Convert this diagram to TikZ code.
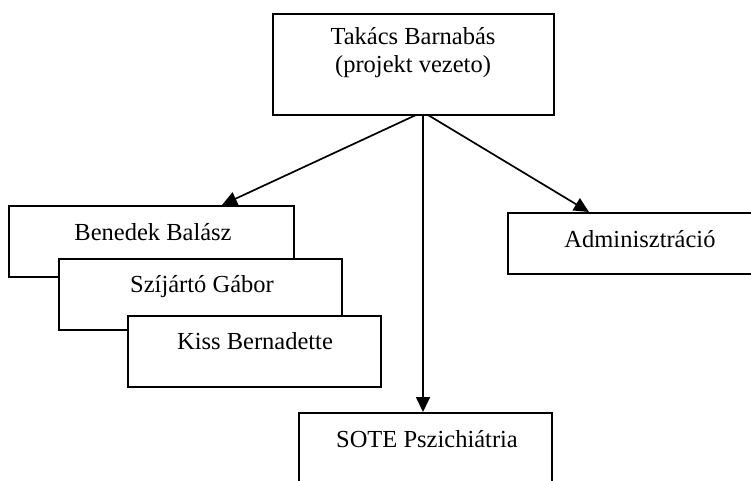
\documentclass[tikz,border=0pt]{standalone}
\usepackage{fontspec}
\setmainfont{Liberation Serif}
\usetikzlibrary{arrows.meta}
\begin{document}
\begin{tikzpicture}[x=1pt,y=-1pt,
  box/.style={draw=black,line width=1.8pt,fill=white,rectangle,anchor=north west,inner sep=0pt},
  lbl/.style={anchor=base,inner sep=0pt,font=\fontsize{24.5}{28}\selectfont},
  link/.style={line width=1.7pt,-{Triangle[length=15pt,width=14pt]}}]
\useasboundingbox (0,0) rectangle (751,481);
% leader
\node[box,minimum width=281pt,minimum height=101pt] (lead) at (272,13) {};
\node[lbl] (lead1) at (413,45) {Takács Barnabás};
\node[lbl] (lead2) at (413,73) {(projekt vezeto)};
% team members, stacked
\node[box,minimum width=285pt,minimum height=71pt] (ben) at (8,205) {};
\node[lbl] (bent) at (153,240) {Benedek Balász};
\node[box,minimum width=283pt,minimum height=71pt] (gab) at (58,258) {};
\node[lbl] (gabt) at (202,292) {Szíjártó Gábor};
\node[box,minimum width=253pt,minimum height=71pt] (kis) at (127,315) {};
\node[lbl] (kist) at (255,349) {Kiss Bernadette};
% administration and partner
\node[box,minimum width=260pt,minimum height=61pt] (adm) at (507,212) {};
\node[lbl] (admt) at (640,247) {Adminisztráció};
\node[box,minimum width=253pt,minimum height=90pt] (sote) at (298,412) {};
\node[lbl] (sotet) at (427,447) {SOTE Pszichiátria};
% connectors
\coordinate (o1) at (416,115);
\coordinate (o2) at (423,115);
\coordinate (o3) at (428,115);
\coordinate (t1) at (222,205);
\coordinate (t3) at (589,212);
\draw[link] (o1) -- (t1);
\draw[link] (o2) -- (o2 |- sote.north);
\draw[link] (o3) -- (t3);
\end{tikzpicture}
\end{document}
